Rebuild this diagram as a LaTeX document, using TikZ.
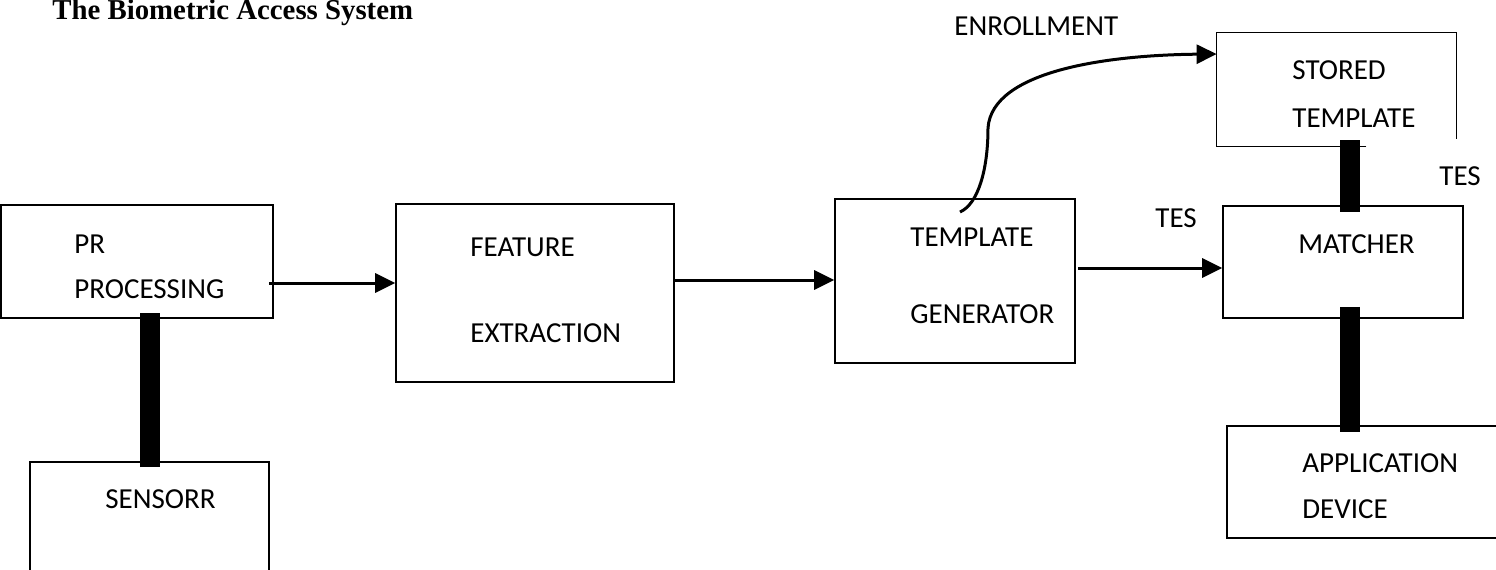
\documentclass[tikz,border=0pt]{standalone}
\usepackage{fontspec}
\setmainfont{Carlito}
\newfontfamily\titlefont{Liberation Serif}
\usetikzlibrary{arrows.meta,fit}
\tikzset{
  box/.style={draw, line width=0.8pt, inner sep=0pt},
  frame/.style={inner sep=0pt},
  txt/.style={anchor=base west, inner sep=0pt, font=\fontsize{14.5pt}{17pt}\selectfont},
  arr/.style={line width=1.5pt, -{Triangle[length=10pt,width=9.5pt]}},
  bar/.style={line width=10pt},
}
\begin{document}
\begin{tikzpicture}[x=0.5pt, y=-0.5pt]
\useasboundingbox (0,0) rectangle (1496,569);
\clip (0,0) rectangle (1496,569);

% title
\node[anchor=base west, inner sep=0pt, font=\titlefont\bfseries\fontsize{14.4pt}{17pt}\selectfont] (title) at (52,19.5) {The Biometric Access System};

% blocks
\node[box, fit={(1,205)(273,318)}] (pr) {};
\node[box, fit={(30,462)(269,620)}] (sens) {};
\node[box, fit={(396,204)(674,382)}] (feat) {};
\node[box, fit={(835,199)(1075,363)}] (tmpl) {};
\node[frame, fit={(1217,33)(1456,146)}] (stored) {};
\draw[line width=0.8pt] ([xshift=-45pt]stored.south east) -- (stored.south west) -- (stored.north west) -- (stored.north east) -- ([yshift=3.5pt]stored.south east);
\node[box, fit={(1223,206)(1463,318)}] (match) {};
\node[box, fit={(1227,426)(1520,538)}] (app) {};

% block texts
\node[txt] (t1) at (74,253) {PR};
\node[txt] (t2) at (74,298) {PROCESSING};
\node[txt] (t3) at (105,508) {SENSORR};
\node[txt] (t4) at (470,256) {FEATURE};
\node[txt] (t5) at (470,342) {EXTRACTION};
\node[txt] (t6) at (910,246) {TEMPLATE};
\node[txt] (t7) at (910,323) {GENERATOR};
\node[txt] (t8) at (1292,79) {STORED};
\node[txt] (t9) at (1292,127) {TEMPLATE};
\node[txt] (t10) at (1298,253) {MATCHER};
\node[txt] (t11) at (1302,472) {APPLICATION};
\node[txt] (t12) at (1302,518) {DEVICE};

% connector labels
\node[txt] (enr) at (954,35) {ENROLLMENT};
\node[txt] (tes1) at (1155,227) {TES};
\node[txt] (tes2) at (1439,185) {TES};

% arrows
\draw[arr] ([xshift=-2.5pt]pr.east |- 0,283) -- (feat.west |- 0,283);
\draw[arr] (feat.east |- 0,280) -- (tmpl.west |- 0,280);
\draw[arr] ([xshift=1pt]tmpl.east |- 0,268) -- (match.west |- 0,268);
\coordinate (cstart) at (960,212);
\draw[arr] (cstart) .. controls (978,204) and (988,170) .. (988,128)
  .. controls (992,70) and (1110,55) .. (stored.west |- 0,54);

% thick links
\draw[bar, shorten <=-3pt, shorten >=-3pt] (sens.north) -- (sens.north |- pr.south);
\coordinate (bx) at (1350,0);
\draw[bar, shorten <=-3pt, shorten >=-3.5pt] (bx |- stored.south) -- (bx |- match.north);
\draw[bar, shorten <=-6pt, shorten >=-3.5pt] (bx |- match.south) -- (bx |- app.north);
\end{tikzpicture}
\end{document}
